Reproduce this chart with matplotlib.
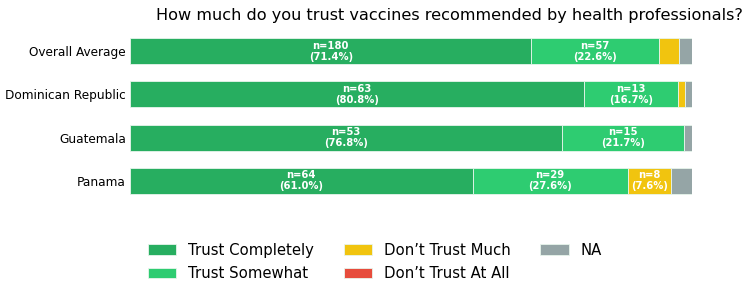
import matplotlib
matplotlib.use("Agg")
import matplotlib.pyplot as plt
import numpy as np

countries = ["Overall Average", "Dominican Republic", "Guatemala", "Panama"]
categories = ["Trust Completely", "Trust Somewhat", "Don\u2019t Trust Much", "Don\u2019t Trust At All", "NA"]
colors = ["#27ae60", "#2ecc71", "#f1c40f", "#e74c3c", "#95a5a6"]

trust_completely = [180, 63, 53, 64]
trust_somewhat = [57, 13, 15, 29]
dont_trust_much = [9, 1, 0, 8]
dont_trust_at_all = [0, 0, 0, 0]
na = [6, 1, 1, 4]

counts = np.array([trust_completely, trust_somewhat, dont_trust_much, dont_trust_at_all, na], dtype=float)
totals = counts.sum(axis=0)
pcts = counts / totals * 100

fig = plt.figure(figsize=(7.5, 2.96), dpi=100)
ax = fig.add_axes([0.1733, 0.316, 0.7494, 0.584])

y = np.arange(len(countries))
left = np.zeros(len(countries))
for i, cat in enumerate(categories):
    ax.barh(y, pcts[i], left=left, height=0.6, color=colors[i], label=cat,
            edgecolor="#e8f5ec", linewidth=0.6)
    for j in range(len(countries)):
        if pcts[i, j] >= 5:
            ax.text(left[j] + pcts[i, j] / 2, y[j],
                    f"n={int(counts[i, j])}\n({pcts[i, j]:.1f}%)",
                    ha="center", va="center", color="white",
                    fontsize=7.2, fontweight="bold", linespacing=1.1)
    left += pcts[i]

ax.set_xlim(0, 100)
ax.set_ylim(3.5, -0.5)
ax.set_yticks(y)
ax.set_yticklabels(countries, fontsize=8.7)
ax.set_xticks([])
ax.tick_params(axis="y", length=0, pad=3)
for s in ax.spines.values():
    s.set_visible(False)

fig.text(0.599, 0.949, "How much do you trust vaccines recommended by health professionals?",
         ha="center", va="center", fontsize=11.6)

fig.legend(loc="center", bbox_to_anchor=(0.5, 0.115), ncol=3, frameon=False,
           fontsize=10.7, handlelength=1.9, handletextpad=0.8, columnspacing=2.0,
           labelspacing=0.6)

fig.savefig("out.png", dpi=100)
